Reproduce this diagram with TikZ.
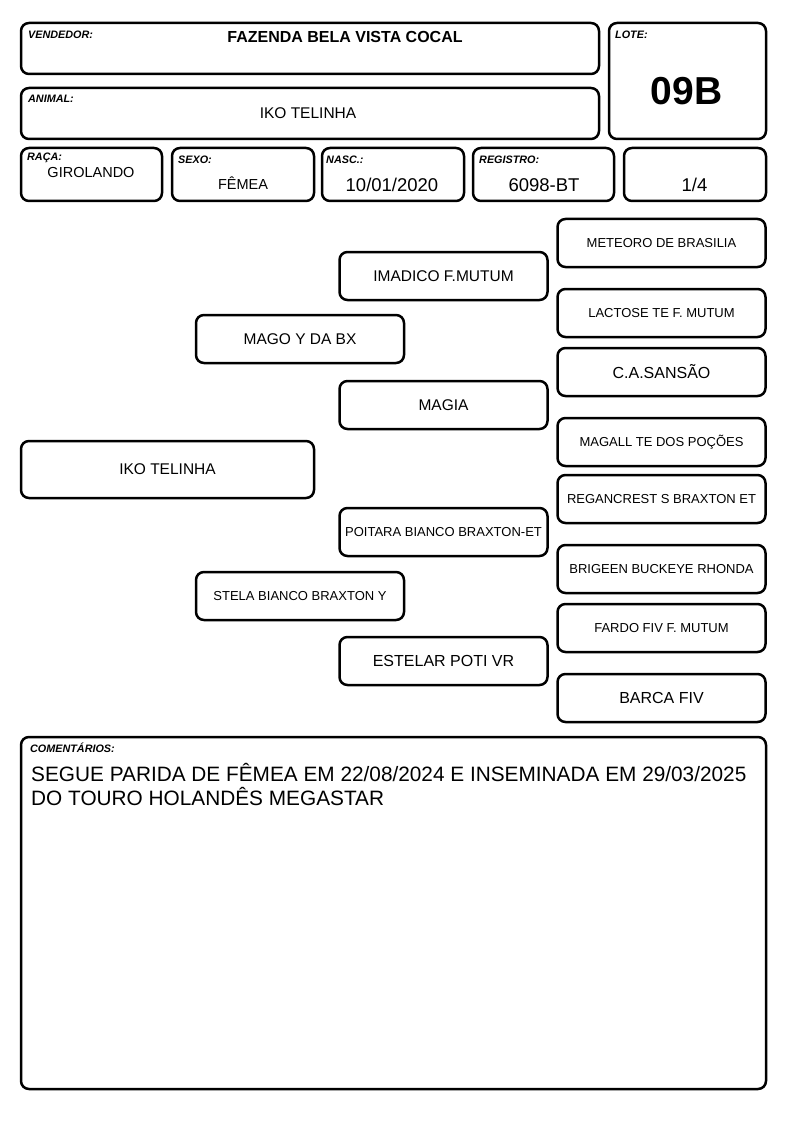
\documentclass[tikz,border=0pt]{standalone}
\usepackage{fontspec}
\setmainfont{Liberation Sans}
\newcommand{\fs}[1]{\fontsize{#1}{#1}\selectfont}
\tikzset{
  rbox/.style={draw, line width=2.5pt, rounded corners=8pt, inner sep=0pt, align=center},
  lab/.style={anchor=west, inner sep=0pt, font=\fs{10.8}\bfseries\itshape},
  val/.style={anchor=base, inner sep=0pt},
  ped/.style={rbox, minimum width=208pt, minimum height=48pt},
  pedS/.style={ped, font=\fs{13}},
  pedL/.style={ped, font=\fs{15.5}},
}
\begin{document}
\begin{tikzpicture}[x=1pt,y=-1pt]
\useasboundingbox[fill=white] (0,0) rectangle (794,1123);
% header
\node[rbox, minimum width=578pt, minimum height=51pt] (vend) at (310,48.5) {};
\node[lab] (vendl) at (28,35) {VENDEDOR:};
\node[val, font=\fs{16}\bfseries] (vendv) at (345,43) {FAZENDA BELA VISTA COCAL};
\node[rbox, minimum width=578pt, minimum height=51pt] (anim) at (310,113.5) {};
\node[lab] (animl) at (28,99) {ANIMAL:};
\node[val, font=\fs{15.5}] (animv) at (308,119) {IKO TELINHA};
\node[rbox, minimum width=157pt, minimum height=116pt] (lote) at (687.5,81) {};
\node[lab] (lotel) at (615,35) {LOTE:};
\node[val, font=\fs{39}\bfseries] (lotev) at (686.5,105) {09B};
\node[rbox, minimum width=141pt, minimum height=53pt] (raca) at (91.5,174.5) {};
\node[lab] (racal) at (27,158) {RAÇA:};
\node[val, font=\fs{14.5}] (racav) at (91,178) {GIROLANDO};
\node[rbox, minimum width=142pt, minimum height=53pt] (sexo) at (243,174.5) {};
\node[lab] (sexol) at (178,160) {SEXO:};
\node[val, font=\fs{14.5}] (sexov) at (243,189.5) {FÊMEA};
\node[rbox, minimum width=142pt, minimum height=53pt] (nasc) at (393,174.5) {};
\node[lab] (nascl) at (326,160) {NASC.:};
\node[val, font=\fs{18.5}] (nascv) at (392,192) {10/01/2020};
\node[rbox, minimum width=141pt, minimum height=53pt] (reg) at (543.5,174.5) {};
\node[lab] (regl) at (479,160) {REGISTRO:};
\node[val, font=\fs{18.5}] (regv) at (544,192) {6098-BT};
\node[rbox, minimum width=142pt, minimum height=53pt] (frac) at (695,174.5) {};
\node[val, font=\fs{18.5}] (fracv) at (694.5,192) {1/4};
% pedigree
\node[rbox, minimum width=293pt, minimum height=57pt, font=\fs{15.5}] (iko) at (167.5,469.5) {IKO TELINHA};
\node[pedL] (mago) at (300,339) {MAGO Y DA BX};
\node[pedS] (stela) at (300,596) {STELA BIANCO BRAXTON Y};
\node[pedL] (imadico) at (443.5,276) {IMADICO F.MUTUM};
\node[pedL] (magia) at (443.5,405) {MAGIA};
\node[pedS] (poitara) at (443.5,532) {POITARA BIANCO BRAXTON-ET};
\node[pedL, font=\fs{16}] (estelar) at (443.5,661) {ESTELAR POTI VR};
\node[pedS] (meteoro) at (661.5,243) {METEORO DE BRASILIA};
\node[pedS] (lactose) at (661.5,313) {LACTOSE TE F. MUTUM};
\node[pedL, font=\fs{16}] (sansao) at (661.5,372) {C.A.SANSÃO};
\node[pedS] (magall) at (661.5,442) {MAGALL TE DOS POÇÕES};
\node[pedS] (regan) at (661.5,499) {REGANCREST S BRAXTON ET};
\node[pedS] (brigeen) at (661.5,569) {BRIGEEN BUCKEYE RHONDA};
\node[pedS] (fardo) at (661.5,628) {FARDO FIV F. MUTUM};
\node[pedL, font=\fs{16}] (barca) at (661.5,698) {BARCA FIV};
% comments
\node[rbox, minimum width=745pt, minimum height=352pt] (com) at (393.5,913) {};
\node[lab] (coml) at (30,748) {COMENTÁRIOS:};
\node[anchor=base west, inner sep=0pt, font=\fs{20.8}] (comv1) at (31,781) {SEGUE PARIDA DE FÊMEA EM 22/08/2024 E INSEMINADA EM 29/03/2025};
\node[anchor=base west, inner sep=0pt, font=\fs{20.8}] (comv2) at (31,805) {DO TOURO HOLANDÊS MEGASTAR};
\end{tikzpicture}
\end{document}
